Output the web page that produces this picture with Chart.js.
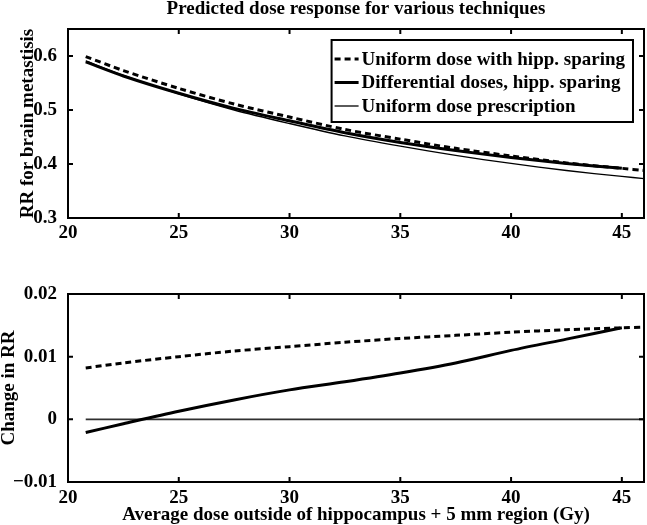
<!DOCTYPE html>
<html>
<head>
<meta charset="utf-8">
<script src="https://cdn.jsdelivr.net/npm/chart.js@4.4.0/dist/chart.umd.min.js"></script>
<style>
  html, body { margin: 0; padding: 0; background: #fff; }
  #wrap { position: relative; width: 647px; height: 525px; }
  canvas { position: absolute; left: 0; }
  #top { top: 0; }
  #bottom { top: 260px; }
</style>
</head>
<body>
<div id="wrap">
  <canvas id="top" width="647" height="260"></canvas>
  <canvas id="bottom" width="647" height="265"></canvas>
</div>
<script>
// dose (Gy) sample points
const doseX = [20.8, 22.5, 25, 27.5, 30, 32.5, 35, 37.5, 40, 42.5, 45, 46];
const doseDiffX = [20.8, 22.5, 25, 27.5, 30, 32.5, 35, 37.5, 40, 42.5, 45];
const zeroX = [20.8, 46];

// top panel: RR for brain metastasis
const rrUniformSparing = [0.599, 0.573, 0.540, 0.511, 0.487, 0.464, 0.446, 0.429, 0.415, 0.402, 0.392, 0.388];
const rrDifferential   = [0.589, 0.563, 0.531, 0.503, 0.480, 0.458, 0.440, 0.425, 0.412, 0.401, 0.392];
const rrUniform        = [0.591, 0.564, 0.530, 0.500, 0.475, 0.452, 0.433, 0.416, 0.401, 0.388, 0.377, 0.373];

// bottom panel: change in RR
const dUniformSparing = [0.0082, 0.0090, 0.0100, 0.0109, 0.0116, 0.0123, 0.0129, 0.0134, 0.0139, 0.0143, 0.0146, 0.0147];
const dDifferential   = [-0.0021, -0.0007, 0.0013, 0.0031, 0.0047, 0.0060, 0.0074, 0.0090, 0.0110, 0.0128, 0.0146];
const dZero           = [0, 0];

// ticks
const xTicks = [20, 25, 30, 35, 40, 45];
const yTopTicks = [0.3, 0.4, 0.5, 0.6];
const yTopLabels = ['0.3', '0.4', '0.5', '0.6'];
const yBotTicks = [-0.01, 0, 0.01, 0.02];
const yBotLabels = ['\u22120.01', '0', '0.01', '0.02'];

const labels = ['Uniform dose with hipp. sparing', 'Differential doses, hipp. sparing', 'Uniform dose prescription'];

const FONT = '"Liberation Serif", "Times New Roman", serif';
Chart.defaults.font.family = FONT;
Chart.defaults.font.weight = 'bold';
Chart.defaults.font.size = 19;
Chart.defaults.color = '#000';

const pts = (xs, ys) => xs.map((x, i) => ({ x, y: ys[i] }));

// box round the axes with inward ticks on all four sides
const boxTicks = {
  id: 'boxTicks',
  afterDatasetsDraw(chart) {
    const { ctx, chartArea: a, scales: { x, y } } = chart;
    ctx.save();
    ctx.strokeStyle = '#000';
    ctx.lineWidth = 2;
    ctx.strokeRect(a.left, a.top, a.right - a.left, a.bottom - a.top);
    ctx.beginPath();
    x.ticks.forEach(t => {
      const px = x.getPixelForValue(t.value);
      ctx.moveTo(px, a.bottom); ctx.lineTo(px, a.bottom - 5);
      ctx.moveTo(px, a.top); ctx.lineTo(px, a.top + 5);
    });
    y.ticks.forEach(t => {
      const py = y.getPixelForValue(t.value);
      ctx.moveTo(a.left, py); ctx.lineTo(a.left + 5, py);
      ctx.moveTo(a.right, py); ctx.lineTo(a.right - 5, py);
    });
    ctx.stroke();
    ctx.restore();
  }
};

// MATLAB style legend inside the axes, top right
const boxLegend = {
  id: 'boxLegend',
  afterDraw(chart) {
    const { ctx, chartArea: a } = chart;
    const sets = chart.data.datasets;
    ctx.save();
    ctx.font = 'bold 19px ' + FONT;
    const maxW = Math.max(...sets.map(d => ctx.measureText(d.label).width));
    const w = 3 + 24 + 3 + maxW + 8, h = 82;
    const left = a.right - 11 - w, top = a.top + 11;
    ctx.fillStyle = '#fff';
    ctx.fillRect(left, top, w, h);
    ctx.strokeStyle = '#000';
    ctx.lineWidth = 2;
    ctx.strokeRect(left, top, w, h);
    sets.forEach((d, i) => {
      const yy = top + 19 + i * 23.5;
      ctx.beginPath();
      ctx.setLineDash(d.borderDash || []);
      ctx.lineWidth = d.borderWidth;
      ctx.moveTo(left + 3, yy);
      ctx.lineTo(left + 27, yy);
      ctx.stroke();
      ctx.setLineDash([]);
      ctx.fillStyle = '#000';
      ctx.textBaseline = 'middle';
      ctx.fillText(d.label, left + 30, yy + 1);
    });
    ctx.restore();
  }
};

function xScale(height, pad, title) {
  return {
    type: 'linear', min: 20, max: 46,
    grid: { display: false }, border: { display: false },
    afterBuildTicks: s => { s.ticks = xTicks.map(v => ({ value: v })); },
    ticks: { padding: pad, maxRotation: 0, callback: v => String(v) },
    title: title ? { display: true, text: title, font: { size: 19, weight: 'bold', lineHeight: 1 }, padding: { top: 0, bottom: 0.5 } } : { display: false },
    afterFit: s => { s.height = height; }
  };
}

function yScale(min, max, ticks, tickLabels, title, titlePad) {
  return {
    type: 'linear', min, max,
    grid: { display: false }, border: { display: false },
    afterBuildTicks: s => { s.ticks = ticks.map(v => ({ value: v })); },
    ticks: { padding: 3, callback: (v, i) => tickLabels[i] },
    title: { display: true, text: title, font: { size: 19, weight: 'bold', lineHeight: 1 }, padding: { top: titlePad, bottom: 0 } },
    afterFit: s => { s.width = 68; }
  };
}

const line = (label, data, width, dash, color) => ({
  label, data, borderColor: color || '#000', borderWidth: width, borderDash: dash || [],
  pointRadius: 0, fill: false, tension: 0.3
});

new Chart(document.getElementById('top'), {
  type: 'line',
  data: {
    datasets: [
      line(labels[0], pts(doseX, rrUniformSparing), 3, [6, 4]),
      line(labels[1], pts(doseDiffX, rrDifferential), 3),
      line(labels[2], pts(doseX, rrUniform), 1.3)
    ]
  },
  options: {
    responsive: false, animation: false,
    layout: { padding: { top: 0, right: 3, left: 0, bottom: 0 } },
    plugins: {
      legend: { display: false }, tooltip: { enabled: false },
      title: { display: true, fullSize: false, text: 'Predicted dose response for various techniques', font: { size: 19, weight: 'bold', lineHeight: 1 }, padding: { top: 0, bottom: 10 } }
    },
    scales: {
      x: xScale(42, -4),
      y: yScale(0.3, 0.65, yTopTicks, yTopLabels, 'RR for brain metastisis', 19)
    }
  },
  plugins: [boxTicks, boxLegend]
});

new Chart(document.getElementById('bottom'), {
  type: 'line',
  data: {
    datasets: [
      line(labels[0], pts(doseX, dUniformSparing), 3, [6, 4]),
      line(labels[1], pts(doseDiffX, dDifferential), 3),
      line(labels[2], pts(zeroX, dZero), 1.8, [], '#303030')
    ]
  },
  options: {
    responsive: false, animation: false,
    layout: { padding: { top: 34, right: 3, left: 0, bottom: 0 } },
    plugins: { legend: { display: false }, tooltip: { enabled: false } },
    scales: {
      x: xScale(43, -3, 'Average dose outside of hippocampus + 5 mm region (Gy)'),
      y: yScale(-0.01, 0.02, yBotTicks, yBotLabels, 'Change in RR', 0)
    }
  },
  plugins: [boxTicks]
});
</script>
</body>
</html>
